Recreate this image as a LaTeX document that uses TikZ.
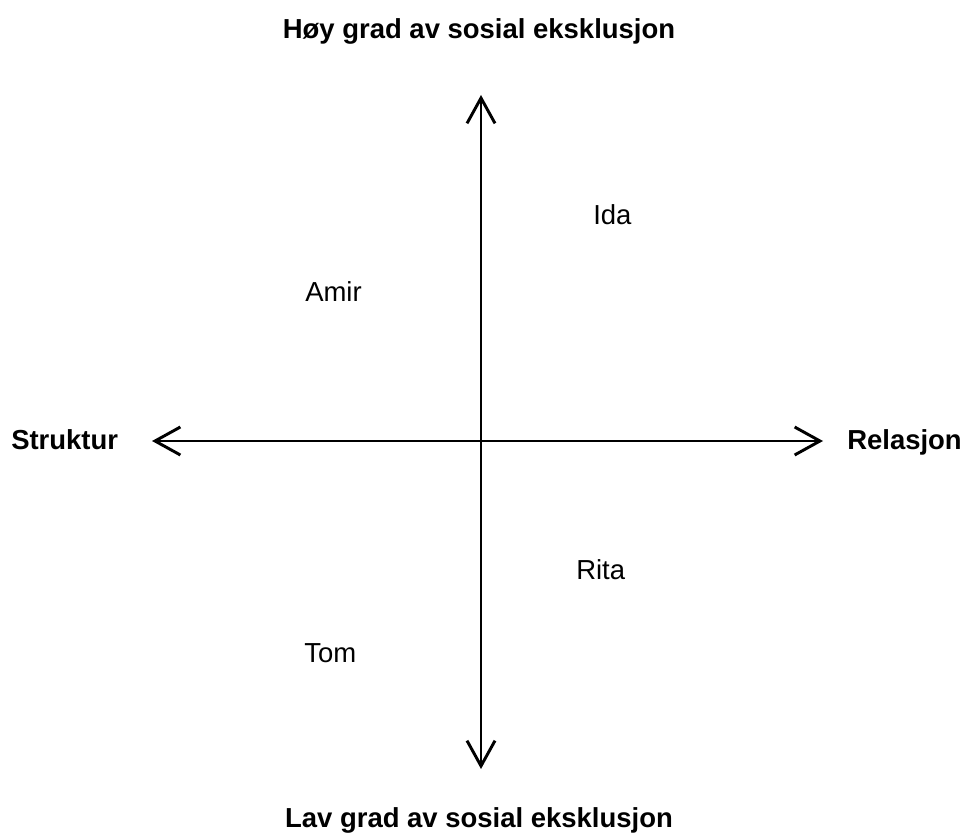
\documentclass[tikz,border=0pt]{standalone}
\usepackage{fontspec}
\setmainfont{Liberation Sans}
\usetikzlibrary{arrows.meta, positioning}

\begin{document}
\begin{tikzpicture}[x=0.75pt, y=-0.75pt,
    every node/.style={inner sep=0pt, font=\fontsize{20.6}{24}\selectfont},
    pole/.style={font=\fontsize{20.6}{24}\selectfont\bfseries},
    person/.style={anchor=base west},
    axisline/.style={line width=2.2pt,
        {Straight Barb[length=19pt, width=21pt]}-{Straight Barb[length=19pt, width=21pt]}}]
    \useasboundingbox (0,0) rectangle (966,834);

    % Axes
    \coordinate (top)    at (481,95);
    \coordinate (bottom) at (481,769);
    \coordinate (left)   at (152,441);
    \coordinate (right)  at (823,441);
    \draw[axisline] (bottom) -- (top);
    \draw[axisline] (left) -- (right);

    % Pole labels
    \node[pole, anchor=base]      (high) at (479,39)  {Høy grad av sosial eksklusjon};
    \node[pole, anchor=base]      (low)  at (479,827) {Lav grad av sosial eksklusjon};
    \node[pole, anchor=base west] (struc) at (11,449) {Struktur};
    \node[pole, anchor=base west] (rel)   at (847,449) {Relasjon};

    % Persons
    \node[person] (ida)  at (593,224) {Ida};
    \node[person] (amir) at (305,301) {Amir};
    \node[person] (rita) at (576,579) {Rita};
    \node[person] (tom)  at (304,662) {Tom};
\end{tikzpicture}
\end{document}
